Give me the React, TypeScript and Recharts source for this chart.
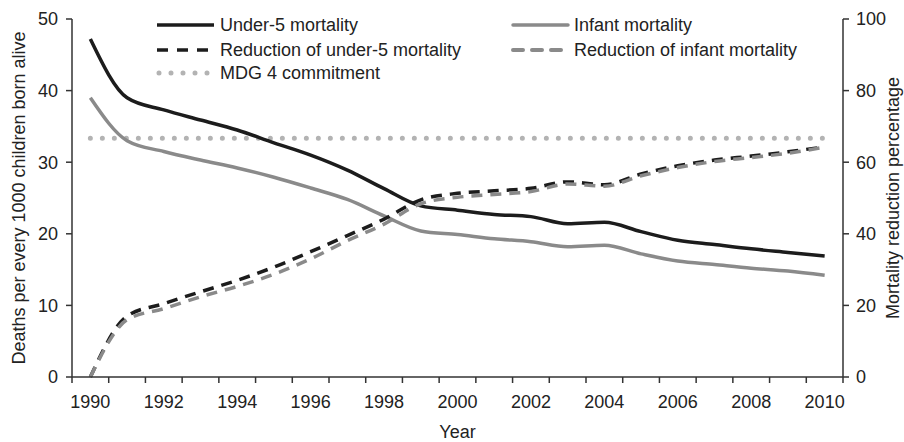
import React from 'react';
import { LineChart, Line, XAxis, YAxis, Legend } from 'recharts';

// ---- data ----
const years = [1990, 1991, 1992, 1993, 1994, 1995, 1996, 1997, 1998, 1999, 2000, 2001, 2002, 2003, 2004, 2005, 2006, 2007, 2008, 2009, 2010];
const under5Mortality = [47.2, 39.0, 37.3, 35.9, 34.5, 32.7, 31.0, 28.9, 26.3, 23.9, 23.3, 22.7, 22.4, 21.4, 21.6, 20.3, 19.1, 18.5, 17.9, 17.4, 16.9];
const infantMortality = [39.0, 33.0, 31.5, 30.3, 29.2, 27.9, 26.4, 24.8, 22.5, 20.4, 19.9, 19.3, 18.9, 18.2, 18.4, 17.2, 16.2, 15.7, 15.2, 14.8, 14.2];
const reductionUnder5 = [0, 17.0, 20.5, 23.8, 27.0, 30.7, 35.0, 39.5, 44.1, 49.5, 51.3, 52.0, 52.7, 54.5, 53.7, 56.7, 59.0, 60.6, 61.7, 62.9, 64.3];
const reductionInfant = [0, 16.0, 19.1, 22.4, 25.3, 28.7, 33.0, 38.1, 42.7, 48.4, 50.2, 51.0, 51.8, 53.9, 53.3, 56.2, 58.5, 60.2, 61.3, 62.5, 64.2];
const mdg4Commitment = 66.7;

const leftTicks = [0, 10, 20, 30, 40, 50];
const rightTicks = [0, 20, 40, 60, 80, 100];

const data = years.map((year, i) => ({
  year,
  under5: under5Mortality[i],
  infant: infantMortality[i],
  redUnder5: reductionUnder5[i],
  redInfant: reductionInfant[i],
  mdg: mdg4Commitment,
}));

// ---- style / layout ----
const W = 904;
const H = 442;
const LEFT_W = 72;
const RIGHT_W = 61;
const X_H = 65;
const TOP = 19;
const PLOT_W = W - LEFT_W - RIGHT_W;
const HALF_BAND = PLOT_W / years.length / 2;
const FONT = '"Liberation Sans", Arial, Helvetica, sans-serif';
const FS = 18;
const TEXT = '#222222';
const AXIS = '#333333';
const BLACK = '#1c1c1c';
const GRAY = '#8a8a8a';
const DOT = '#b3b3b3';
const TICK = 6;

const YearTick = (props: any) => {
  const { x, y, payload } = props;
  const yr = payload.value;
  return (
    <g>
      <line x1={x - HALF_BAND} x2={x - HALF_BAND} y1={y - TICK} y2={y} stroke={AXIS} strokeWidth={1.5} />
      {yr === years[years.length - 1] && (
        <line x1={x + HALF_BAND} x2={x + HALF_BAND} y1={y - TICK} y2={y} stroke={AXIS} strokeWidth={1.5} />
      )}
      {yr % 2 === 0 && (
        <text x={x} y={y + 25} textAnchor="middle" fill={TEXT} fontSize={FS} fontFamily={FONT}>
          {yr}
        </text>
      )}
    </g>
  );
};

const VLabel = (text: string, dxFromLeft: number) => (p: any) => {
  const vb = p.viewBox;
  const cx = vb.x + dxFromLeft;
  const cy = vb.y + vb.height / 2;
  return (
    <text
      x={cx}
      y={cy}
      transform={`rotate(-90, ${cx}, ${cy})`}
      textAnchor="middle"
      dominantBaseline="central"
      fill={TEXT}
      fontSize={FS}
      fontFamily={FONT}
    >
      {text}
    </text>
  );
};

const legendItems = [
  { label: 'Under-5 mortality', col: 0, row: 0, stroke: BLACK, dash: undefined as string | undefined, cap: 'butt', w: 3.5 },
  { label: 'Reduction of under-5 mortality', col: 0, row: 1, stroke: BLACK, dash: '11 9', cap: 'butt', w: 3.5 },
  { label: 'MDG 4 commitment', col: 0, row: 2, stroke: DOT, dash: '0 12', cap: 'round', w: 5 },
  { label: 'Infant mortality', col: 1, row: 0, stroke: GRAY, dash: undefined, cap: 'round', w: 3.5 },
  { label: 'Reduction of infant mortality', col: 1, row: 1, stroke: GRAY, dash: '10 9', cap: 'round', w: 4 },
];
const legendCols = [157, 511];
const legendRows = [25, 50, 73];
const SAMPLE_W = 57;

const LegendContent = () => (
  <svg width={W} height={90} style={{ display: 'block' }}>
    {legendItems.map((it) => {
      const x = legendCols[it.col];
      const y = legendRows[it.row];
      return (
        <g key={it.label}>
          <line
            x1={it.cap === 'round' ? x + 2 : x}
            x2={x + SAMPLE_W}
            y1={y}
            y2={y}
            stroke={it.stroke}
            strokeWidth={it.w}
            strokeDasharray={it.dash}
            strokeLinecap={it.cap as any}
          />
          <text x={x + SAMPLE_W + 6} y={y} dominantBaseline="central" fill={TEXT} fontSize={FS} fontFamily={FONT}>
            {it.label}
          </text>
        </g>
      );
    })}
  </svg>
);

export default function App() {
  return (
    <div style={{ position: 'absolute', left: 0, top: 0, width: W, height: H, fontFamily: FONT, background: '#fff' }}>
      <LineChart width={W} height={H} data={data} margin={{ top: TOP, right: 0, bottom: 0, left: 0 }}>
        <XAxis
          dataKey="year"
          type="number"
          domain={[years[0] - 0.5, years[years.length - 1] + 0.5]}
          ticks={years}
          interval={0}
          height={X_H}
          tickSize={TICK}
          tickMargin={0}
          tickLine={false}
          tick={<YearTick />}
          axisLine={{ stroke: AXIS, strokeWidth: 1.5 }}
          label={(p: any) => (
            <text
              x={p.viewBox.x + p.viewBox.width / 2}
              y={p.viewBox.y + p.viewBox.height - 4}
              textAnchor="middle"
              fill={TEXT}
              fontSize={FS}
              fontFamily={FONT}
            >
              Year
            </text>
          )}
        />
        <YAxis
          yAxisId="left"
          orientation="left"
          domain={[0, 50]}
          ticks={leftTicks}
          width={LEFT_W}
          tickSize={TICK}
          tickMargin={8}
          tick={{ fill: TEXT, fontSize: FS, fontFamily: FONT }}
          tickLine={{ stroke: AXIS, strokeWidth: 1.5 }}
          axisLine={{ stroke: AXIS, strokeWidth: 1.5 }}
          label={VLabel('Deaths per every 1000 children born alive', 18.5)}
        />
        <YAxis
          yAxisId="right"
          orientation="right"
          domain={[0, 100]}
          ticks={rightTicks}
          width={RIGHT_W}
          tickSize={TICK}
          tickMargin={7}
          tick={{ fill: TEXT, fontSize: FS, fontFamily: FONT }}
          tickLine={{ stroke: AXIS, strokeWidth: 1.5 }}
          axisLine={{ stroke: AXIS, strokeWidth: 1.5 }}
          label={VLabel('Mortality reduction percentage', 50)}
        />
        <Legend
          layout="horizontal"
          verticalAlign="middle"
          align="center"
          content={<LegendContent />}
          wrapperStyle={{ left: 0, top: 0, width: W, height: 90 }}
        />
        <Line
          yAxisId="right"
          dataKey="mdg"
          type="linear"
          stroke={DOT}
          strokeWidth={5}
          strokeDasharray="0 12"
          strokeLinecap="round"
          dot={false}
          activeDot={false}
          isAnimationActive={false}
        />
        <Line yAxisId="left" dataKey="under5" type="monotone" stroke={BLACK} strokeWidth={3.5} dot={false} activeDot={false} isAnimationActive={false} />
        <Line yAxisId="left" dataKey="infant" type="monotone" stroke={GRAY} strokeWidth={3.5} dot={false} activeDot={false} isAnimationActive={false} />
        <Line
          yAxisId="right"
          dataKey="redUnder5"
          type="monotone"
          stroke={BLACK}
          strokeWidth={3.5}
          strokeDasharray="11 8"
          dot={false}
          activeDot={false}
          isAnimationActive={false}
        />
        <Line
          yAxisId="right"
          dataKey="redInfant"
          type="monotone"
          stroke={GRAY}
          strokeWidth={3.5}
          strokeDasharray="11 8"
          dot={false}
          activeDot={false}
          isAnimationActive={false}
        />
      </LineChart>
    </div>
  );
}
